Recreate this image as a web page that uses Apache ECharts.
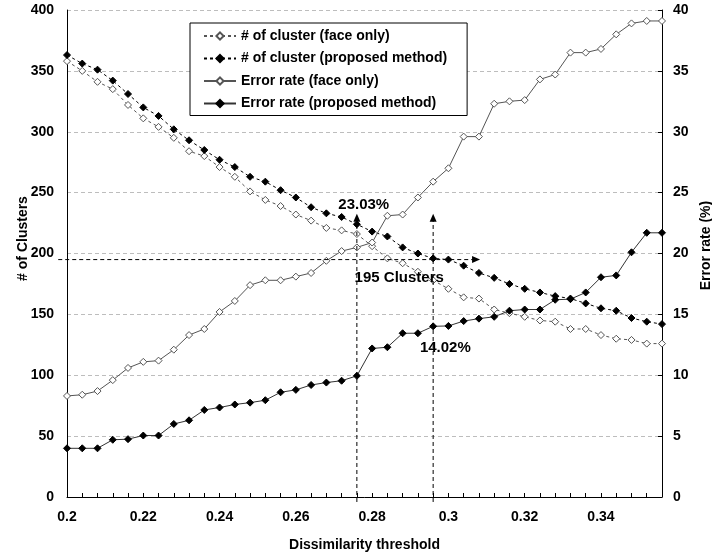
<!DOCTYPE html>
<html>
<head>
<meta charset="utf-8">
<script src="https://cdn.jsdelivr.net/npm/echarts@6/dist/echarts.min.js"></script>
<style>
html,body{margin:0;padding:0;background:#fff;}
#chart{width:712px;height:558px;}
</style>
</head>
<body>
<div id="chart"></div>
<script>
// ---- data ----
const thresholds = [0.200,0.204,0.208,0.212,0.216,0.220,0.224,0.228,0.232,0.236,
                    0.240,0.244,0.248,0.252,0.256,0.260,0.264,0.268,0.272,0.276,
                    0.280,0.284,0.288,0.292,0.296,0.300,0.304,0.308,0.312,0.316,
                    0.320,0.324,0.328,0.332,0.336,0.340,0.344,0.348,0.352,0.356];
const clustersFace = [358,350,341,335,322,311,304,295,284,280,
                      271,263,251,244,239,232,227,221,219,216,
                      206,196,192,185,178,171,164,163,154,151,
                      148,145,144,138,138,133,130,129,126,126];
const clustersProposed = [363,356,351,342,331,320,313,302,293,285,
                          277,271,263,259,252,246,238,233,230,224,
                          218,214,205,200,196,195,190,184,180,175,
                          171,168,165,163,159,155,153,147,144,142];
const errorFace = [8.3,8.4,8.7,9.6,10.6,11.1,11.2,12.1,13.3,13.8,
                   15.2,16.1,17.4,17.8,17.8,18.1,18.4,19.4,20.2,20.5,
                   20.9,23.1,23.2,24.6,25.9,27.0,29.6,29.6,32.3,32.5,
                   32.6,34.3,34.7,36.5,36.5,36.8,38.0,38.9,39.1,39.1];
const errorProposed = [4.0,4.0,4.0,4.7,4.75,5.05,5.05,6.0,6.3,7.15,
                       7.35,7.6,7.75,7.95,8.6,8.8,9.2,9.4,9.55,9.95,
                       12.2,12.3,13.45,13.45,14.02,14.05,14.45,14.65,14.8,15.3,
                       15.4,15.4,16.2,16.25,16.8,18.05,18.2,20.1,21.7,21.7];
const xTickLabels = ['0.2','0.22','0.24','0.26','0.28','0.3','0.32','0.34'];
const seriesNames = ['# of cluster (face only)','# of cluster (proposed method)',
                     'Error rate (face only)','Error rate (proposed method)'];
// annotations: vertical arrows [x, top error %, bottom], horizontal arrow [x start, clusters, x end]
const vArrows = [[0.276, 23.27, -0.41], [0.296, 23.27, -0.41]];
const hArrows = [[0.1977, 195, 0.3083]];
const pctLabels = [[0.2778, 24.0, '23.03%'], [0.2992, 12.21, '14.02%']];
const clusterLabels = [[0.2871, 179.8, '195 Clusters']];

const FONT = "'Liberation Sans', Arial, sans-serif";
const pair = (ys) => thresholds.map((x, i) => [x, ys[i]]);

const chart = echarts.init(document.getElementById('chart'), null, {renderer: 'canvas'});

function textItem(params, api) {
  const p = api.coord([api.value(0), api.value(1)]);
  return {
    type: 'text', x: p[0], y: p[1],
    style: {text: api.value(2), fill: '#000', font: 'bold 15px ' + FONT,
            align: 'center', verticalAlign: 'middle'}
  };
}

const option = {
  animation: false,
  backgroundColor: '#fff',
  grid: {left: 67, right: 50, top: 10, bottom: 61, containLabel: false, outerBoundsMode: 'none'},
  legend: {
    data: seriesNames,
    orient: 'vertical',
    left: 190, top: 23,
    padding: [6, 20, 5, 13],
    itemWidth: 32, itemHeight: 9, itemGap: 8.5,
    backgroundColor: '#fff',
    borderColor: '#000', borderWidth: 1,
    textStyle: {fontFamily: FONT, fontWeight: 'bold', fontSize: 14, color: '#000'}
  },
  xAxis: {
    type: 'value', min: 0.2, max: 0.356, interval: 0.004,
    name: 'Dissimilarity threshold', nameLocation: 'middle', nameGap: 41,
    nameTextStyle: {fontFamily: FONT, fontWeight: 'bold', fontSize: 14, color: '#000'},
    axisLine: {lineStyle: {color: '#000', width: 1}},
    axisTick: {show: true, inside: true, length: 4, lineStyle: {color: '#000'}},
    axisLabel: {
      margin: 13, fontFamily: FONT, fontWeight: 'bold', fontSize: 14, color: '#000',
      showMaxLabel: false,
      formatter: function (v) {
        const l = xTickLabels.find(s => Math.abs(parseFloat(s) - v) < 1e-6);
        return l || '';
      }
    },
    splitLine: {show: false}
  },
  yAxis: [
    {
      type: 'value', min: 0, max: 400, interval: 50, position: 'left',
      name: '# of Clusters', nameLocation: 'middle', nameGap: 37, nameMoveOverlap: false,
      nameTextStyle: {fontFamily: FONT, fontWeight: 'bold', fontSize: 14, color: '#000', padding: [0, 0, 0, 30]},
      axisLine: {show: true, lineStyle: {color: '#000', width: 1}},
      axisTick: {show: false},
      axisLabel: {margin: 13, fontFamily: FONT, fontWeight: 'bold', fontSize: 14, color: '#000'},
      splitLine: {show: true, lineStyle: {color: '#bdbdbd', type: [4, 3], width: 1}}
    },
    {
      type: 'value', min: 0, max: 40, interval: 5, position: 'right',
      name: 'Error rate (%)', nameLocation: 'middle', nameGap: 35,
      nameTextStyle: {fontFamily: FONT, fontWeight: 'bold', fontSize: 14, color: '#000', padding: [0, 0, 0, 16]},
      axisLine: {show: true, lineStyle: {color: '#000', width: 1}},
      axisTick: {show: true, inside: true, length: 4, lineStyle: {color: '#000'}},
      axisLabel: {margin: 11, fontFamily: FONT, fontWeight: 'bold', fontSize: 14, color: '#000'},
      splitLine: {show: false}
    }
  ],
  series: [
    {
      name: seriesNames[0], type: 'line', yAxisIndex: 0, data: pair(clustersFace),
      symbol: 'diamond', symbolSize: 7, showAllSymbol: true,
      lineStyle: {color: '#555', width: 1, type: [3, 3]},
      itemStyle: {color: '#fff', borderColor: '#555', borderWidth: 1}, z: 3
    },
    {
      name: seriesNames[1], type: 'line', yAxisIndex: 0, data: pair(clustersProposed),
      symbol: 'diamond', symbolSize: 7, showAllSymbol: true,
      lineStyle: {color: '#000', width: 1, type: [3, 3]},
      itemStyle: {color: '#000', borderColor: '#000', borderWidth: 1}, z: 3
    },
    {
      name: seriesNames[2], type: 'line', yAxisIndex: 1, data: pair(errorFace),
      symbol: 'diamond', symbolSize: 7, showAllSymbol: true,
      lineStyle: {color: '#555', width: 1, type: 'solid'},
      itemStyle: {color: '#fff', borderColor: '#555', borderWidth: 1}, z: 3
    },
    {
      name: seriesNames[3], type: 'line', yAxisIndex: 1, data: pair(errorProposed),
      symbol: 'diamond', symbolSize: 7, showAllSymbol: true,
      lineStyle: {color: '#333', width: 1, type: 'solid'},
      itemStyle: {color: '#000', borderColor: '#000', borderWidth: 1}, z: 3
    },
    {
      type: 'custom', yAxisIndex: 1, data: vArrows, encode: {x: 0, y: [1, 2]}, silent: true, z: 4,
      renderItem: function (params, api) {
        const top = api.coord([api.value(0), api.value(1)]);
        const bot = api.coord([api.value(0), api.value(2)]);
        return {type: 'group', children: [
          {type: 'line', shape: {x1: bot[0], y1: bot[1], x2: top[0], y2: top[1] + 6},
           style: {stroke: '#000', lineWidth: 1, lineDash: [4, 3]}},
          {type: 'polygon', shape: {points: [[top[0], top[1]], [top[0] - 3.5, top[1] + 8], [top[0] + 3.5, top[1] + 8]]},
           style: {fill: '#000'}}
        ]};
      }
    },
    {
      type: 'custom', yAxisIndex: 0, data: hArrows, encode: {x: [0, 2], y: 1}, silent: true, z: 4,
      renderItem: function (params, api) {
        const a = api.coord([api.value(0), api.value(1)]);
        const b = api.coord([api.value(2), api.value(1)]);
        return {type: 'group', children: [
          {type: 'line', shape: {x1: a[0], y1: a[1], x2: b[0] - 6, y2: b[1]},
           style: {stroke: '#000', lineWidth: 1, lineDash: [4, 3]}},
          {type: 'polygon', shape: {points: [[b[0], b[1]], [b[0] - 8, b[1] - 3.5], [b[0] - 8, b[1] + 3.5]]},
           style: {fill: '#000'}}
        ]};
      }
    },
    {
      type: 'custom', yAxisIndex: 1, data: pctLabels, encode: {x: 0, y: 1}, silent: true, z: 5,
      renderItem: textItem
    },
    {
      type: 'custom', yAxisIndex: 0, data: clusterLabels, encode: {x: 0, y: 1}, silent: true, z: 5,
      renderItem: textItem
    }
  ]
};
chart.setOption(option);
</script>
</body>
</html>
